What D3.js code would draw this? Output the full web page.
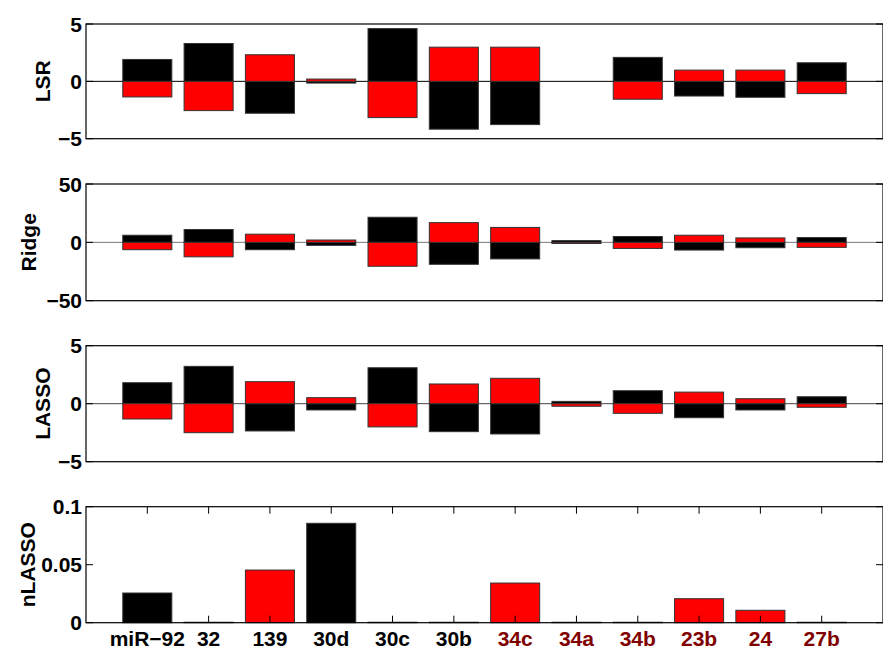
<!DOCTYPE html>
<html><head><meta charset="utf-8">
<script src="https://cdn.jsdelivr.net/npm/d3@7"></script>
<style>body{margin:0;background:#fff}text{font-family:"Liberation Sans",Arial,Helvetica,sans-serif;font-weight:bold}</style>
</head><body><svg id="c" width="883" height="650"></svg>
<script>
// ---------------- data ----------------
const categories = ["miR\u221292","32","139","30d","30c","30b","34c","34a","34b","23b","24","27b"];
const categoryGroup = [0,0,0,0,0,0,1,1,1,1,1,1];
const lsrBlack   = [1.91, 3.30, -2.78, -0.15, 4.60, -4.17, -3.77, 0, 2.09, -1.28, -1.39, 1.62];
const lsrRed     = [-1.36, -2.55, 2.32, 0.20, -3.16, 2.98, 2.98, 0, -1.56, 0.98, 0.98, -1.07];
const ridgeBlack = [6.1, 11.0, -6.3, -2.6, 21.5, -18.8, -14.2, 1.5, 5.0, -6.6, -4.6, 4.1];
const ridgeRed   = [-6.3, -12.4, 7.0, 2.0, -20.5, 16.9, 12.8, -1.0, -5.2, 6.1, 3.8, -4.3];
const lassoBlack = [1.81, 3.22, -2.35, -0.54, 3.10, -2.41, -2.61, 0.20, 1.12, -1.21, -0.54, 0.60];
const lassoRed   = [-1.32, -2.50, 1.90, 0.52, -2.00, 1.70, 2.19, -0.22, -0.83, 1.00, 0.43, -0.31];
const nlassoValues = [0.0256, 0.0004, 0.0454, 0.0857, 0.0004, 0.0004, 0.0342, 0.0004, 0.0004, 0.0207, 0.0107, 0.0004];
const nlassoSeries = [0, 0, 1, 0, 0, 0, 1, 0, 0, 1, 1, 0];
const panelNames = ["LSR", "Ridge", "LASSO", "nLASSO"];
const lsrTicks = [-5, 0, 5];
const ridgeTicks = [-50, 0, 50];
const lassoTicks = [-5, 0, 5];
const nlassoTicks = [0, 0.05, 0.1];
const lsrTickLabels = ["\u22125", "0", "5"];
const ridgeTickLabels = ["\u221250", "0", "50"];
const lassoTickLabels = ["\u22125", "0", "5"];
const nlassoTickLabels = ["0", "0.05", "0.1"];

// ---------------- styles / layout ----------------
const seriesColors = ["#000000", "#ff0000"];
const labelColors = ["#000000", "#800000"];
const FS = 21;
const left = 86, right = 883;
const panels = [
  {name: panelNames[0], top: 24,    bottom: 138.7, domain: [-5, 5],   ticks: lsrTicks,   tl: lsrTickLabels,   series: [lsrBlack, lsrRed],     zero: "#000", labelX: 42},
  {name: panelNames[1], top: 184,   bottom: 300.7, domain: [-50, 50], ticks: ridgeTicks, tl: ridgeTickLabels, series: [ridgeBlack, ridgeRed], zero: "#777", labelX: 28},
  {name: panelNames[2], top: 345.7, bottom: 461.7, domain: [-5, 5],   ticks: lassoTicks, tl: lassoTickLabels, series: [lassoBlack, lassoRed], zero: "#444", labelX: 42},
  {name: panelNames[3], top: 506.7, bottom: 622.7, domain: [0, 0.1],  ticks: nlassoTicks, tl: nlassoTickLabels, single: true, labelX: 27}
];
const svg = d3.select("#c");
const x = d3.scaleLinear().domain([0, categories.length + 1]).range([left, right]);
const step = x(1) - x(0);
const bw = step * 0.8;
const tickLen = 7;

panels.forEach((p, pi) => {
  const y = d3.scaleLinear().domain(p.domain).range([p.bottom, p.top]);
  const g = svg.append("g");
  if (!p.single) {
    g.append("line").attr("x1", left).attr("x2", right).attr("y1", y(0)).attr("y2", y(0))
      .attr("stroke", p.zero).attr("stroke-width", 1);
  }
  const drawBars = (vals, colorFn) => {
    g.selectAll(null).data(vals).enter().append("rect")
      .attr("x", (d, i) => x(i + 1) - bw / 2)
      .attr("width", bw)
      .attr("y", d => Math.min(y(d), y(0)))
      .attr("height", d => Math.abs(y(d) - y(0)))
      .attr("fill", colorFn)
      .attr("stroke", "#333").attr("stroke-width", 1);
  };
  if (p.single) {
    drawBars(nlassoValues, (d, i) => seriesColors[nlassoSeries[i]]);
  } else {
    p.series.forEach((s, si) => drawBars(s, () => seriesColors[si]));
  }
  g.append("rect").attr("x", left).attr("y", p.top).attr("width", right - left).attr("height", p.bottom - p.top)
    .attr("fill", "none").attr("stroke", "#000").attr("stroke-width", 1.2);
  p.ticks.forEach((t, ti) => {
    const yy = y(t);
    g.append("line").attr("x1", left).attr("x2", left + tickLen).attr("y1", yy).attr("y2", yy).attr("stroke", "#000");
    g.append("line").attr("x1", right - tickLen).attr("x2", right).attr("y1", yy).attr("y2", yy).attr("stroke", "#000");
    g.append("text").attr("x", left - 4).attr("y", yy).attr("dy", "0.36em")
      .attr("text-anchor", "end").attr("font-size", FS).attr("fill", "#000").text(p.tl[ti]);
  });
  g.append("text").attr("transform", `translate(${p.labelX},${(p.top + p.bottom) / 2}) rotate(-90)`)
    .attr("dy", "0.36em").attr("text-anchor", "middle").attr("font-size", FS).attr("fill", "#000").text(p.name);
  if (p.single) {
    categories.forEach((c, i) => {
      const xx = x(i + 1);
      g.append("line").attr("x1", xx).attr("x2", xx).attr("y1", p.top).attr("y2", p.top + tickLen).attr("stroke", "#000");
      g.append("line").attr("x1", xx).attr("x2", xx).attr("y1", p.bottom - tickLen).attr("y2", p.bottom).attr("stroke", "#000");
      g.append("text").attr("x", xx).attr("y", p.bottom + 23).attr("text-anchor", "middle")
        .attr("font-size", FS).attr("fill", labelColors[categoryGroup[i]]).text(c);
    });
  }
});
</script></body></html>
